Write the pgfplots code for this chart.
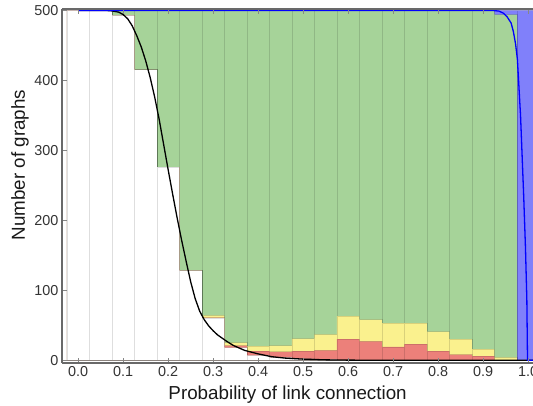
\documentclass[border=0pt]{standalone}
\usepackage{pgfplots}
\pgfplotsset{compat=1.18}
\usepackage{pgfplotstable}
\usepackage{fontspec}
\setmainfont{Liberation Sans}

\definecolor{binGreen}{RGB}{166,211,153}
\definecolor{binYellow}{RGB}{250,241,142}
\definecolor{binRed}{RGB}{236,128,122}
\definecolor{binBlue}{RGB}{128,128,250}
\definecolor{spine}{RGB}{105,105,105}

% graphs per probability bin, split by outcome (500 graphs per bin)
\pgfplotstableread{
p     white red yellow green blue
0.00  500   0   0    0     0
0.05  500   0   0    0     0
0.10  493   0   0    7     0
0.15  415   0   0    85    0
0.20  276   0   0    224   0
0.25  128   0   0    372   0
0.30  60    1   3    436   0
0.35  18    3   4    475   0
0.40  7     6   7    480   0
0.45  4     8   9    479   0
0.50  2     11  18   469   0
0.55  1     13  23   463   0
0.60  0     30  33   437   0
0.65  0     27  31   442   0
0.70  0     19  34   447   0
0.75  0     23  30   447   0
0.80  0     13  28   459   0
0.85  0     8   22   470   0
0.90  0     6   10   484   0
0.95  0     0   4    490   6
1.00  0     0   0    0     500
}\counts

\begin{document}
\begin{tikzpicture}
\begin{axis}[
  scale only axis, width=471pt, height=354pt,
  xmin=-0.036, xmax=1.0107, ymin=-4, ymax=502,
  axis x line=box, axis y line=left,
  axis line style={-, draw=spine, line width=1.5pt},
  axis on top,
  tick align=inside, major tick length=5pt,
  tick style={draw=spine!80, line width=0.8pt},
  xtick={0,0.1,0.2,0.3,0.4,0.5,0.6,0.7,0.8,0.9,1.0},
  ytick={0,100,200,300,400,500},
  x tick label style={/pgf/number format/.cd, fixed, fixed zerofill, precision=1},
  /pgf/number format/assume math mode=true,
  ticklabel style={font=\fontsize{14.4}{17}\selectfont, text=black!80},
  xlabel={Probability of link connection},
  ylabel={Number of graphs},
  every axis x label/.style={at={(axis description cs:0.479,-0.0904)}, anchor=center},
  every axis y label/.style={at={(axis description cs:-0.0892,0.559)}, rotate=90, anchor=center},
  label style={font=\fontsize{18.8}{22}\selectfont, text=black!90},
  no markers,
  bin/.style={ybar, bar width=0.05, bar shift=0pt, draw=black, draw opacity=0.13, line width=0.8pt},
]
% cumulative bars, tallest first
\addplot[bin, fill=binBlue] table[x=p, y expr=\thisrow{white}+\thisrow{red}+\thisrow{yellow}+\thisrow{green}+\thisrow{blue}]{\counts};
\addplot[bin, fill=binGreen] table[x=p, y expr=\thisrow{white}+\thisrow{red}+\thisrow{yellow}+\thisrow{green}]{\counts};
\addplot[bin, fill=binYellow] table[x=p, y expr=\thisrow{white}+\thisrow{red}+\thisrow{yellow}]{\counts};
\addplot[bin, fill=binRed] table[x=p, y expr=\thisrow{white}+\thisrow{red}]{\counts};
\addplot[bin, fill=white] table[x=p, y=white]{\counts};

% expected number of disconnected graphs
\addplot[black, line width=1.3pt] coordinates {
(0,500) (0.06,500) (0.075,499.3) (0.09,497.5) (0.1,494) (0.11,488) (0.12,478)
(0.13,464) (0.14,448) (0.15,428) (0.16,404) (0.17,376) (0.18,344) (0.19,308)
(0.2,272) (0.21,237) (0.22,203) (0.23,171) (0.24,141) (0.25,112) (0.26,88)
(0.27,70) (0.28,58) (0.29,49) (0.3,42) (0.31,36) (0.33,27) (0.345,21) (0.37,14)
(0.4,9) (0.43,5) (0.46,3) (0.5,1.5) (0.55,0.5) (0.6,0.1) (0.65,0) (1.05,0)
};
% expected number of complete graphs
\addplot[blue, line width=1.3pt] coordinates {
(0,500) (0.92,500) (0.935,499) (0.945,496) (0.953,491) (0.962,482) (0.967,470)
(0.972,452) (0.976,430) (0.983,350) (0.99,235) (0.994,160) (0.997,87)
(0.9985,0) (1.05,0)
};
\end{axis}
\pgfresetboundingbox
\path[use as bounding box] (-62pt,-43pt) rectangle (471pt,363pt);
\end{tikzpicture}
\end{document}
